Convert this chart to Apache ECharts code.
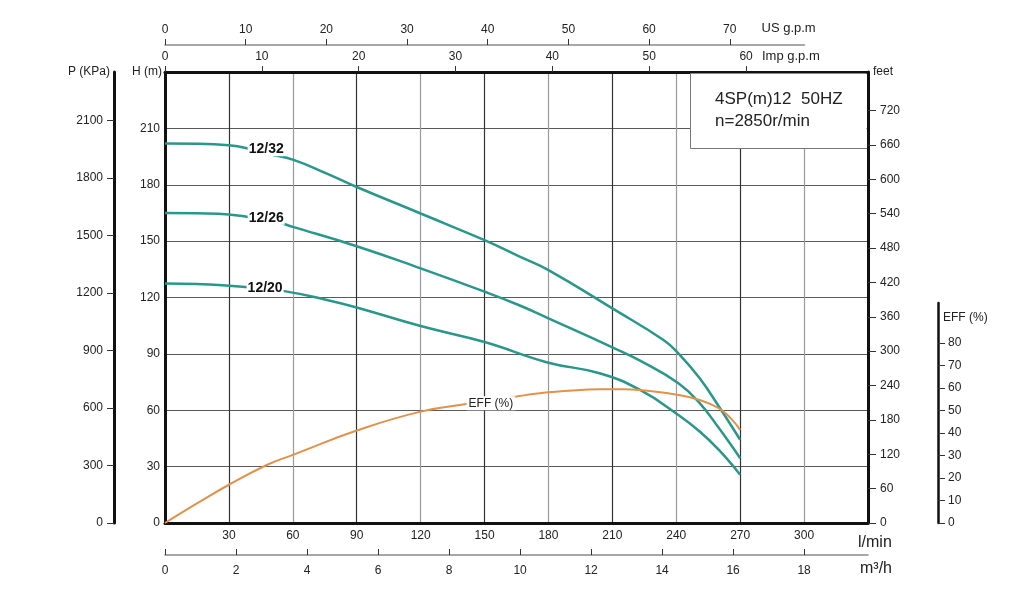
<!DOCTYPE html>
<html>
<head>
<meta charset="utf-8">
<script src="https://cdn.jsdelivr.net/npm/echarts@6/dist/echarts.min.js"></script>
<style>
  html, body { margin: 0; padding: 0; background: #fff; }
  #chart { width: 1024px; height: 604px; }
</style>
</head>
<body>
<div id="chart"></div>
<script>
// pump curves, flow in l/min, head in m
var flow32 = [0, 15, 30, 39, 49, 60, 76, 90, 120, 150, 166, 180, 210, 234, 241, 251, 260, 270]
var head32 = [201.9, 201.8, 201.0, 199.3, 196.2, 193.4, 185.9, 178.8, 164.7, 150.5, 142, 134.6, 114.2, 97.4, 90.3, 77, 62, 44.3]

var flow26 = [0, 15, 30, 39, 52, 60, 90, 120, 150, 166, 180, 210, 223, 241, 251, 260, 270]
var head26 = [165.0, 164.8, 164.2, 162.8, 160.3, 157.6, 147.3, 135.5, 123.1, 116, 108.9, 93.5, 86.4, 74.4, 63.8, 50.5, 34.5]

var flow20 = [0, 15, 30, 39, 56, 76, 90, 120, 150, 180, 204, 223, 241, 251, 260, 270]
var head20 = [127.5, 127.2, 126.3, 125.5, 123.4, 118.7, 114.7, 104.8, 96.3, 85.3, 79.7, 70.8, 57.5, 48.7, 38.9, 25.7]

var flowEff = [0, 15, 30, 48, 60, 90, 120, 144, 165, 176, 204, 215, 223, 241, 251, 260, 265.5, 270]
var effVals = [0, 8.7, 17.0, 25.9, 30.3, 41.1, 49.5, 53.2, 56.2, 57.7, 59.4, 59.5, 59.1, 56.9, 54.7, 51.0, 46.6, 41.4]

var curveNames = ['12/32', '12/26', '12/20']

// tick labels
var flowTicks = [30, 60, 90, 120, 150, 180, 210, 240, 270, 300]
var m3hTicks = [0, 2, 4, 6, 8, 10, 12, 14, 16, 18]
var impTicks = [0, 10, 20, 30, 40, 50, 60]
var usTicks = [0, 10, 20, 30, 40, 50, 60, 70]
var headTicks = [0, 30, 60, 90, 120, 150, 180, 210]
var kpaTicks = [0, 300, 600, 900, 1200, 1500, 1800, 2100]
var feetTicks = [0, 60, 120, 180, 240, 300, 360, 420, 480, 540, 600, 660, 720]
var effTicks = [0, 10, 20, 30, 40, 50, 60, 70, 80]

var FLOW_MAX = 330
var HEAD_MAX = 240

var TEAL = '#2a978b'
var ORANGE = '#e0924c'
var INK = '#222'
var FONT = '"Liberation Sans", Arial, sans-serif'

function pairs (xs, ys) {
  return xs.map(function (x, i) { return [x, ys[i]] })
}

function curve (name, xs, ys, labelAt) {
  return {
    name: name,
    type: 'line',
    xAxisIndex: 0,
    yAxisIndex: 0,
    data: pairs(xs, ys),
    smooth: 0.45,
    showSymbol: false,
    lineStyle: { color: TEAL, width: 2.5 },
    markPoint: {
      symbol: 'rect',
      symbolSize: 0,
      silent: true,
      label: {
        show: true,
        position: 'inside',
        formatter: name,
        fontFamily: FONT,
        fontWeight: 'bold',
        fontSize: 14,
        color: '#111',
        backgroundColor: '#fff',
        padding: [0, 1]
      },
      data: [{ coord: labelAt }]
    }
  }
}

function tickLabel (values, extra) {
  var o = {
    customValues: values, color: INK, fontSize: 12, fontFamily: FONT,
    formatter: function (v) { return String(v) }
  }
  for (var k in extra) o[k] = extra[k]
  return o
}

function axisLine (color, width) {
  return { show: true, onZero: false, lineStyle: { color: color, width: width } }
}

var chart = echarts.init(document.getElementById('chart'))

chart.setOption({
  animation: false,
  backgroundColor: '#fff',
  textStyle: { fontFamily: FONT },
  grid: [
    { left: 165, top: 72, width: 703, height: 451 },
    { left: 165, top: 45, width: 639.5, height: 10 },
    { left: 937, top: 303, width: 1, height: 220 }
  ],
  xAxis: [
    {
      // l/min
      type: 'value', gridIndex: 0, position: 'bottom',
      min: 0, max: FLOW_MAX, interval: 30,
      axisLine: axisLine('#111', 3),
      axisTick: { show: false },
      axisLabel: tickLabel(flowTicks, { margin: 7 }),
      splitLine: { show: true, lineStyle: { color: ['#9a9a9a', '#333'], width: 1.2 } },
      name: 'l/min', nameLocation: 'end', nameGap: -10,
      nameTextStyle: { fontSize: 16, color: INK, align: 'left', verticalAlign: 'top', padding: [12, 0, 0, 0] }
    },
    {
      // m3/h
      type: 'value', gridIndex: 0, position: 'bottom', offset: 32,
      min: 0, max: FLOW_MAX / 16.667, interval: 2,
      axisLine: axisLine('#8a8a8a', 1.5),
      axisTick: { show: true, inside: true, length: 6, customValues: m3hTicks, lineStyle: { color: '#333', width: 1 } },
      axisLabel: tickLabel(m3hTicks, { margin: 10 }),
      splitLine: { show: false },
      name: 'm³/h', nameLocation: 'end', nameGap: -8,
      nameTextStyle: { fontSize: 16, color: INK, align: 'left', verticalAlign: 'top', padding: [6, 0, 0, 0] }
    },
    {
      // Imp g.p.m
      type: 'value', gridIndex: 0, position: 'top',
      min: 0, max: FLOW_MAX / 4.546, interval: 10,
      axisLine: axisLine('#111', 3),
      axisTick: { show: true, length: 6, customValues: impTicks, lineStyle: { color: '#333', width: 1 } },
      axisLabel: tickLabel(impTicks, { margin: 9 }),
      splitLine: { show: false },
      name: 'Imp g.p.m', nameLocation: 'end', nameGap: -106,
      nameTextStyle: { fontSize: 13, color: INK, align: 'left', verticalAlign: 'bottom', padding: [0, 0, 9, 0] }
    },
    {
      // US g.p.m
      type: 'value', gridIndex: 1, position: 'top',
      min: 0, max: 300 / 3.785, interval: 10,
      axisLine: axisLine('#8a8a8a', 1.5),
      axisTick: { show: true, length: 6, customValues: usTicks, lineStyle: { color: '#333', width: 1 } },
      axisLabel: tickLabel(usTicks, { margin: 9 }),
      splitLine: { show: false },
      name: 'US g.p.m', nameLocation: 'end', nameGap: -43,
      nameTextStyle: { fontSize: 13, color: INK, align: 'left', verticalAlign: 'bottom', padding: [0, 0, 10, 0] }
    },
    { type: 'value', gridIndex: 2, show: false, min: 0, max: 1 }
  ],
  yAxis: [
    {
      // H (m)
      type: 'value', gridIndex: 0, position: 'left',
      min: 0, max: HEAD_MAX, interval: 30,
      axisLine: axisLine('#111', 3),
      axisTick: { show: false },
      axisLabel: tickLabel(headTicks, { margin: 5 }),
      splitLine: { show: true, lineStyle: { color: '#5a5a5a', width: 1.2 } },
      name: 'H (m)', nameLocation: 'end', nameGap: 0,
      nameTextStyle: { fontSize: 12, color: INK, align: 'right', verticalAlign: 'middle', padding: [0, 3, 0, 0] }
    },
    {
      // P (KPa)
      type: 'value', gridIndex: 0, position: 'left', offset: 51,
      min: 0, max: HEAD_MAX * 9.8, interval: 300,
      axisLine: axisLine('#111', 3),
      axisTick: { show: true, length: 7, customValues: kpaTicks, lineStyle: { color: '#333', width: 1 } },
      axisLabel: tickLabel(kpaTicks, { margin: 11 }),
      splitLine: { show: false },
      name: 'P (KPa)', nameLocation: 'end', nameGap: 0,
      nameTextStyle: { fontSize: 12, color: INK, align: 'right', verticalAlign: 'middle', padding: [0, 4, 0, 0] }
    },
    {
      // feet
      type: 'value', gridIndex: 0, position: 'right',
      min: 0, max: HEAD_MAX * 3.2808, interval: 60,
      axisLine: axisLine('#111', 3),
      axisTick: { show: true, length: 8, customValues: feetTicks, lineStyle: { color: '#333', width: 1 } },
      axisLabel: tickLabel(feetTicks, { margin: 12 }),
      splitLine: { show: false },
      name: 'feet', nameLocation: 'end', nameGap: 0,
      nameTextStyle: { fontSize: 12, color: INK, align: 'left', verticalAlign: 'middle', padding: [0, 0, 0, 5] }
    },
    {
      // efficiency scale inside the main grid, same px per % as the EFF axis
      type: 'value', gridIndex: 0, position: 'right', show: false,
      min: 0, max: 451 / 2.25
    },
    { type: 'value', gridIndex: 1, show: false, min: 0, max: 1 },
    {
      // EFF (%)
      type: 'value', gridIndex: 2, position: 'right',
      min: 0, max: 220 / 2.25, interval: 10,
      axisLine: axisLine('#111', 2.5),
      axisTick: { show: true, length: 7, customValues: effTicks, lineStyle: { color: '#333', width: 1 } },
      axisLabel: tickLabel(effTicks, { margin: 10 }),
      splitLine: { show: false },
      name: 'EFF (%)', nameLocation: 'end', nameGap: -9,
      nameTextStyle: { fontSize: 12, color: INK, align: 'left', verticalAlign: 'top', padding: [0, 0, 0, 5] }
    }
  ],
  series: [
    curve(curveNames[0], flow32, head32, [47.5, 198.9]),
    curve(curveNames[1], flow26, head26, [47.5, 162.4]),
    curve(curveNames[2], flow20, head20, [47, 124.9]),
    {
      name: 'EFF',
      type: 'line',
      xAxisIndex: 0,
      yAxisIndex: 3,
      data: pairs(flowEff, effVals),
      smooth: 0.45,
      showSymbol: false,
      lineStyle: { color: ORANGE, width: 2 },
      markPoint: {
        symbol: 'rect',
        symbolSize: 0,
        silent: true,
        label: {
          show: true, position: 'inside', formatter: 'EFF (%)',
          fontFamily: FONT, fontSize: 12, color: INK,
          backgroundColor: '#fff', padding: [1, 2]
        },
        data: [{ coord: [153, 53.2] }]
      }
    }
  ],
  graphic: [
    {
      type: 'rect', z: 1, left: 690, top: 73.5,
      shape: { width: 176.5, height: 74.5 },
      style: { fill: '#fff' }
    },
    {
      type: 'polyline', z: 1,
      shape: { points: [[690.5, 73], [690.5, 148.5], [867, 148.5]] },
      style: { stroke: '#777', lineWidth: 1, fill: null }
    },
    {
      type: 'text', z: 2, left: 715, top: 91,
      style: { text: '4SP(m)12  50HZ', font: '17px ' + FONT, fill: INK }
    },
    {
      type: 'text', z: 2, left: 715, top: 113,
      style: { text: 'n=2850r/min', font: '17px ' + FONT, fill: INK }
    }
  ]
})
</script>
</body>
</html>
